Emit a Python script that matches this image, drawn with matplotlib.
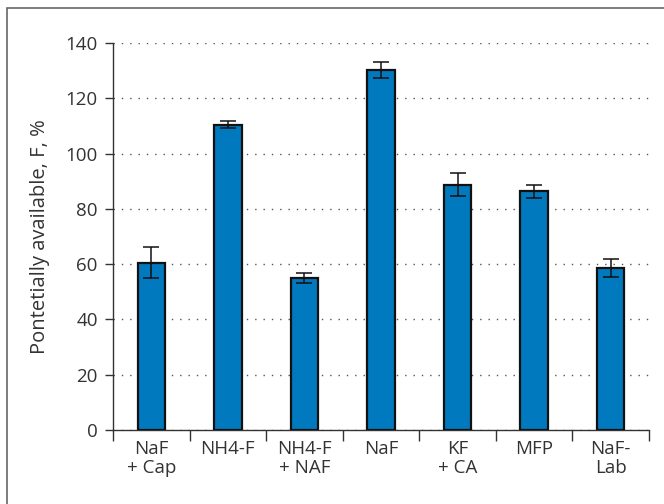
import numpy as np
import matplotlib.pyplot as plt
from matplotlib.patches import Rectangle

# data
categories = ['NaF\n+ Cap', 'NH4-F', 'NH4-F\n+ NAF', 'NaF', 'KF\n+ CA', 'MFP', 'NaF-\nLab']
values = [60.5, 110.5, 55.0, 130.2, 88.8, 86.3, 58.5]
errors = [5.6, 1.2, 1.7, 2.8, 4.0, 2.2, 3.3]
y_ticks = [0, 20, 40, 60, 80, 100, 120, 140]

plt.rcParams['font.family'] = ['Open Sans', 'DejaVu Sans']
txt = '#333333'
fs = 13.5

fig = plt.figure(figsize=(6.64, 5.04), dpi=100)
ax = fig.add_axes([113 / 664, 1 - 430 / 504, 536 / 664, 387 / 504])

x = np.arange(len(categories))
ax.bar(x, values, width=0.36, color='#0079bf', edgecolor='#111111', linewidth=1.6, zorder=3)
ax.errorbar(x, values, yerr=errors, fmt='none', ecolor='#111111', elinewidth=1.1,
            capsize=5.5, capthick=1.1, zorder=4)

ax.set_xlim(-0.5, len(categories) - 0.5)
ax.set_ylim(0, 140)
ax.set_yticks(y_ticks)
ax.tick_params(axis='y', direction='out', length=6, width=1, colors=txt, labelsize=fs, pad=5)

# x labels in the middle, ticks at the category borders
ax.set_xticks(x)
ax.set_xticklabels(categories, fontsize=fs, color=txt, linespacing=1.1)
ax.tick_params(axis='x', which='major', length=0, pad=7)
ax.set_xticks(np.arange(len(categories) + 1) - 0.5, minor=True)
ax.tick_params(axis='x', which='minor', direction='out', length=8, width=1, color=txt)

ax.grid(axis='y', linestyle=(0, (1, 5)), color='#555555', linewidth=1, zorder=0)
ax.spines['top'].set_visible(False)
ax.spines['right'].set_visible(False)
for s in ['left', 'bottom']:
    ax.spines[s].set_color(txt)
    ax.spines[s].set_linewidth(1)

ax.set_ylabel('Pontetially available, F, %', fontsize=14.5, color=txt, labelpad=11)

# frame around the whole figure (right and bottom run off the image)
fig.patches.append(Rectangle((7 / 664, -0.1), 1.2, 1 - 8 / 504 + 0.1, transform=fig.transFigure,
                             fill=False, edgecolor='#666666', linewidth=1.2))

fig.savefig('out.png', dpi=100)
